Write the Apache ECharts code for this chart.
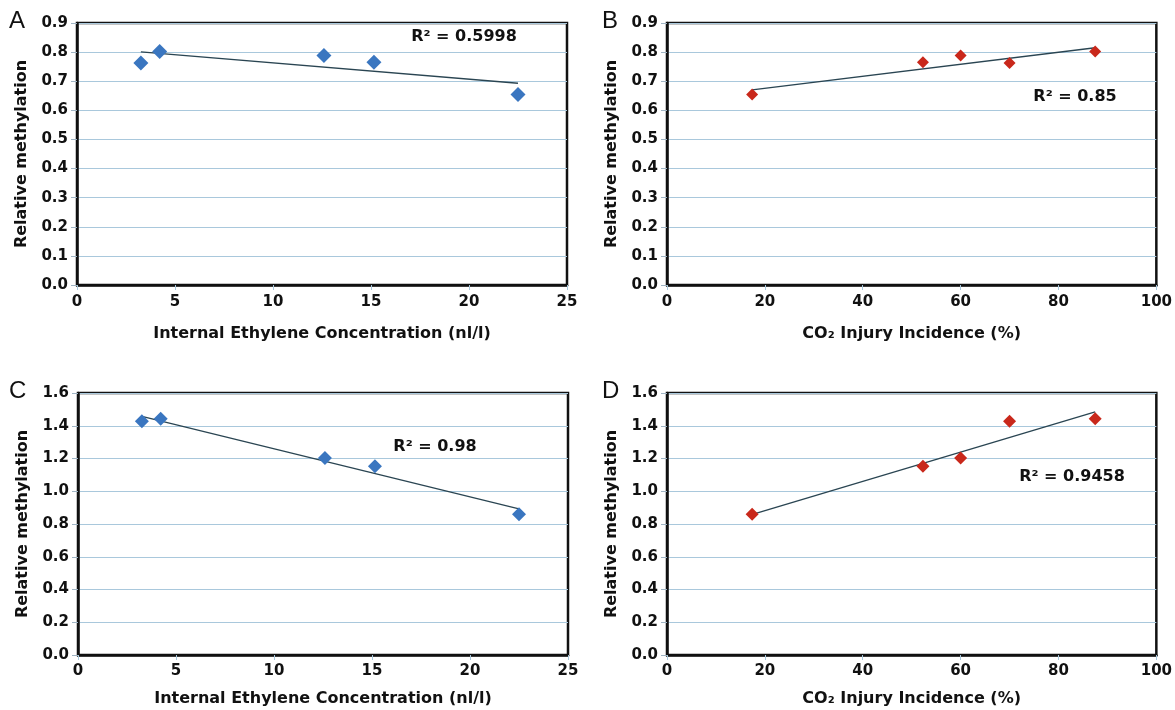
<!DOCTYPE html>
<html>
<head>
<meta charset="utf-8">
<script src="https://cdn.jsdelivr.net/npm/echarts@6/dist/echarts.min.js"></script>
<style>
  html, body { margin: 0; padding: 0; background: #fff; }
  #main { width: 1175px; height: 710px; }
</style>
</head>
<body>
<div id="main"></div>
<script>
// values
var ethylene = [3.26, 4.22, 12.6, 15.15, 22.5];
var co2Injury = [70.0, 87.5, 60.0, 52.3, 17.4];
var methylTop = [0.763, 0.802, 0.788, 0.765, 0.654];
var methylBottom = [1.427, 1.443, 1.203, 1.152, 0.860];

// trendline ends [x, y]
var trendA = [[3.26, 0.801], [22.5, 0.693]];
var trendB = [[17.4, 0.670], [87.5, 0.815]];
var trendC = [[3.26, 1.457], [22.5, 0.893]];
var trendD = [[17.3, 0.858], [87.5, 1.484]];

var r2Labels = ['R² = 0.5998', 'R² = 0.85', 'R² = 0.98', 'R² = 0.9458'];
var panelLetters = ['A', 'B', 'C', 'D'];
var xTitles = ['Internal Ethylene Concentration (nl/l)', 'CO₂ Injury Incidence (%)'];
var yTitle = 'Relative methylation';

var FONT = 'DejaVu Sans';
var blue = '#3a76c0';
var red = '#c9281b';
var lineColor = '#2a4552';
var gridBlue = '#a9c8dc';

function pairs(xs, ys) {
    var out = [];
    for (var i = 0; i < xs.length; i++) out.push([xs[i], ys[i]]);
    return out;
}

var grids = [
    { left: 77, right: 608, top: 23, height: 262 },
    { left: 667, right: 17, top: 23, height: 262 },
    { left: 78, right: 607, top: 393, height: 262 },
    { left: 667, right: 17, top: 393, height: 262 }
];
grids.forEach(function (g) {
    g.show = true;
    g.borderColor = '#111';
    g.borderWidth = 2.5;
    g.backgroundColor = 'transparent';
});

var xAxes = [], yAxes = [], series = [];
var xMax = [25, 100, 25, 100];
var xInt = [5, 20, 5, 20];
var yMax = [0.9, 0.9, 1.6, 1.6];
var yInt = [0.1, 0.1, 0.2, 0.2];
var nameGapX = [41, 41, 36, 36];
var labelMarginX = [10, 10, 9, 9];

for (var k = 0; k < 4; k++) {
    xAxes.push({
        gridIndex: k,
        type: 'value',
        min: 0, max: xMax[k], interval: xInt[k],
        name: xTitles[k % 2],
        nameLocation: 'middle',
        nameGap: nameGapX[k],
        nameTextStyle: { fontFamily: FONT, fontWeight: 'bold', fontSize: 16, color: '#111' },
        axisLine: { show: true, lineStyle: { color: '#111', width: 2.5 } },
        axisTick: { show: true, length: 5, lineStyle: { color: gridBlue } },
        axisLabel: { fontFamily: FONT, fontWeight: 'bold', fontSize: 15, color: '#111', margin: labelMarginX[k] },
        splitLine: { show: false }
    });
    yAxes.push({
        gridIndex: k,
        type: 'value',
        min: 0, max: yMax[k], interval: yInt[k],
        name: yTitle,
        nameLocation: 'middle',
        nameGap: 47,
        nameRotate: 90,
        nameTextStyle: { fontFamily: FONT, fontWeight: 'bold', fontSize: 16, color: '#111' },
        axisLine: { show: true, lineStyle: { color: '#111', width: 2.5 } },
        axisTick: { show: true, length: 6, lineStyle: { color: '#9fb4c4' } },
        axisLabel: {
            fontFamily: FONT, fontWeight: 'bold', fontSize: 15, color: '#111', margin: 9,
            formatter: function (v) { return v.toFixed(1); }
        },
        splitLine: { show: true, lineStyle: { color: gridBlue, width: 1 } }
    });
}

var pointSets = [
    pairs(ethylene, methylTop),
    pairs(co2Injury, methylTop),
    pairs(ethylene, methylBottom),
    pairs(co2Injury, methylBottom)
];
var trends = [trendA, trendB, trendC, trendD];
var markColors = [blue, red, blue, red];
var markSizes = [15, 12, 14, 13];

for (var j = 0; j < 4; j++) {
    series.push({
        type: 'line',
        xAxisIndex: j, yAxisIndex: j,
        data: trends[j],
        symbol: 'none',
        lineStyle: { color: lineColor, width: 1.3 },
        silent: true,
        z: 2
    });
    series.push({
        type: 'scatter',
        xAxisIndex: j, yAxisIndex: j,
        data: pointSets[j],
        symbol: 'diamond',
        symbolSize: markSizes[j],
        itemStyle: { color: markColors[j], opacity: 1 },
        z: 3
    });
}

// panel letters and R² annotations
var letterPos = [[9, 23], [602, 23], [9, 393], [602, 393]];
var r2Pos = [[464, 37], [1075, 97], [435, 447], [1072, 477]];
var graphics = [];
for (var m = 0; m < 4; m++) {
    graphics.push({
        type: 'text',
        left: letterPos[m][0],
        top: letterPos[m][1] - 14,
        style: { text: panelLetters[m], font: '24px "Liberation Sans"', fill: '#111' }
    });
    graphics.push({
        type: 'text',
        x: r2Pos[m][0],
        y: r2Pos[m][1],
        style: {
            text: r2Labels[m],
            font: 'bold 16px "DejaVu Sans"',
            fill: '#111',
            align: 'center',
            verticalAlign: 'middle'
        },
        z: 10
    });
}

var chart = echarts.init(document.getElementById('main'));
chart.setOption({
    backgroundColor: '#fff',
    animation: false,
    grid: grids,
    xAxis: xAxes,
    yAxis: yAxes,
    series: series,
    graphic: graphics
});
</script>
</body>
</html>
